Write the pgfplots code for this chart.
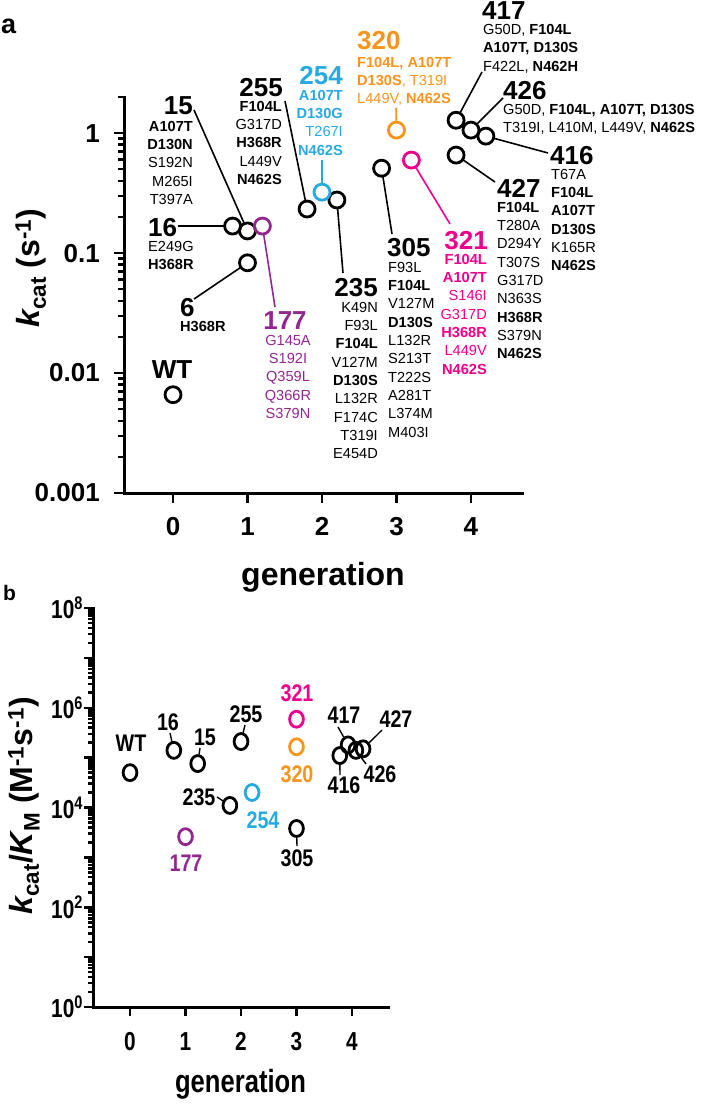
\documentclass[border=0pt]{standalone}
\usepackage{fontspec}
\setmainfont{Liberation Sans}
\usepackage{pgfplots}
\pgfplotsset{compat=1.18}
\definecolor{cpurple}{HTML}{92278F}
\definecolor{ccyan}{HTML}{27AAE1}
\definecolor{corange}{HTML}{F7941E}
\definecolor{cpink}{HTML}{EC008C}
\newcommand{\fs}[1]{\fontsize{#1}{#1}\selectfont}
\newcommand{\mutcol}[5]{\foreach \mt [count=\i from 0] in {#5} {\node[mut,text=#4,anchor=#3] at (#1,{#2+18.35*\i}) {\mt};}}
\begin{document}
\begin{tikzpicture}[
  big/.style={font=\fs{26}\bfseries, inner sep=0pt},
  mut/.style={font=\fs{14.6}, inner sep=0pt},
  bl/.style={font=\fs{24}\bfseries, inner sep=0pt, xscale=0.82},
  lead/.style={line width=1.6pt, shorten >=8.5pt},
]
\useasboundingbox (0pt,0pt) rectangle (704pt,-1106pt);

% ---------------- panel a ----------------
\begin{axis}[
  at={(124pt,-493pt)}, anchor=south west,
  scale only axis, width=398pt, height=396pt,
  xmin=-0.658, xmax=4.685,
  ymode=log, ymin=0.001, ymax=2,
  axis lines=left,
  axis line style={-, line width=3pt, line cap=rect},
  clip=false,
  xtick={0,1,2,3,4}, xticklabels={0,1,2,3,4},
  ytick={0.001,0.01,0.1,1}, yticklabels={0.001,0.01,0.1,1},
  minor ytick={0.002,0.003,0.004,0.005,0.006,0.007,0.008,0.009,0.02,0.03,0.04,0.05,0.06,0.07,0.08,0.09,0.2,0.3,0.4,0.5,0.6,0.7,0.8,0.9,2},
  tick align=outside,
  major tick length=10pt, minor tick length=6pt,
  every tick/.style={black, line width=2.5pt},
  ticklabel style={font=\fs{26}\bfseries, inner sep=0pt},
  xticklabel shift=14pt, yticklabel shift=14pt,
  xlabel={generation},
  ylabel={{\itshape k}\textsubscript{cat} (s\textsuperscript{-1})},
  label style={font=\fs{32}\bfseries},
  xlabel style={at={(axis description cs:0.5,-0.2323)}, anchor=base},
  ylabel style={at={(axis description cs:-0.2337,0.568)}, anchor=center},
]
\addplot[only marks, mark=o, black, mark size=8pt, mark options={line width=2.8pt}] coordinates {
 (0,0.0066) (0.8,0.168) (1,0.153) (1,0.083) (1.8,0.233) (2.2,0.277) (2.8,0.51)
 (3.8,1.28) (4,1.06) (4.2,0.944) (3.8,0.656)};
\addplot[only marks, mark=o, cpurple, mark size=8pt, mark options={line width=2.8pt}] coordinates {(1.2,0.168)};
\addplot[only marks, mark=o, ccyan, mark size=8pt, mark options={line width=2.8pt}] coordinates {(2,0.322)};
\addplot[only marks, mark=o, corange, mark size=8pt, mark options={line width=2.8pt}] coordinates {(3,1.06)};
\addplot[only marks, mark=o, cpink, mark size=8pt, mark options={line width=2.8pt}] coordinates {(3.2,0.596)};
\coordinate (aWT) at (axis cs:0,0.0066);
\coordinate (a16) at (axis cs:0.8,0.168);
\coordinate (a15) at (axis cs:1,0.153);
\coordinate (a6) at (axis cs:1,0.083);
\coordinate (a177) at (axis cs:1.2,0.168);
\coordinate (a255) at (axis cs:1.8,0.233);
\coordinate (a254) at (axis cs:2,0.322);
\coordinate (a235) at (axis cs:2.2,0.277);
\coordinate (a305) at (axis cs:2.8,0.51);
\coordinate (a320) at (axis cs:3,1.06);
\coordinate (a321) at (axis cs:3.2,0.596);
\coordinate (a417) at (axis cs:3.8,1.28);
\coordinate (a426) at (axis cs:4,1.06);
\coordinate (a416) at (axis cs:4.2,0.944);
\coordinate (a427) at (axis cs:3.8,0.656);
\end{axis}

% ---------------- panel b ----------------
\begin{axis}[
  at={(93pt,-1007pt)}, anchor=south west,
  scale only axis, width=295pt, height=399pt,
  xmin=-0.667, xmax=4.649,
  ymode=log, ymin=1, ymax=1e8,
  axis lines=left,
  axis line style={-, line width=3pt, line cap=rect},
  clip=false,
  xtick={0,1,2,3,4}, xticklabels={0,1,2,3,4},
  ytick={1,10,100,1000,1e4,1e5,1e6,1e7,1e8},
  yticklabels={10\textsuperscript{0},,10\textsuperscript{2},,10\textsuperscript{4},,10\textsuperscript{6},,10\textsuperscript{8}},
  minor ytick={2,3,4,5,6,7,8,9,20,30,40,50,60,70,80,90,200,300,400,500,600,700,800,900,2000,3000,4000,5000,6000,7000,8000,9000,2e4,3e4,4e4,5e4,6e4,7e4,8e4,9e4,2e5,3e5,4e5,5e5,6e5,7e5,8e5,9e5,2e6,3e6,4e6,5e6,6e6,7e6,8e6,9e6,2e7,3e7,4e7,5e7,6e7,7e7,8e7,9e7},
  tick align=outside,
  major tick length=9pt, minor tick length=5pt,
  every tick/.style={black, line width=2.5pt},
  ticklabel style={font=\fs{26}\bfseries, inner sep=0pt, xscale=0.8},
  xticklabel shift=16pt, yticklabel shift=1pt,
  xlabel={generation},
  ylabel={{\itshape k}\textsubscript{cat}/{\itshape K}\textsubscript{M} (M\textsuperscript{-1}s\textsuperscript{-1})},
  label style={font=\fs{32}\bfseries},
  xlabel style={at={(axis description cs:0.5,-0.2155)}, anchor=base, xscale=0.8},
  ylabel style={at={(axis description cs:-0.234,0.504)}, anchor=center},
]
\addplot[only marks, mark=o, black, mark size=8pt, mark options={line width=2.8pt, xscale=0.86}] coordinates {
 (0,5.0e4) (0.79,1.4e5) (1.22,7.6e4) (2,2.1e5) (1.8,1.1e4) (3,3.8e3)
 (3.78,1.1e5) (3.93,1.8e5) (4.07,1.4e5) (4.2,1.5e5)};
\addplot[only marks, mark=o, cpurple, mark size=8pt, mark options={line width=2.8pt, xscale=0.86}] coordinates {(1,2.6e3)};
\addplot[only marks, mark=o, ccyan, mark size=8pt, mark options={line width=2.8pt, xscale=0.86}] coordinates {(2.2,2.0e4)};
\addplot[only marks, mark=o, corange, mark size=8pt, mark options={line width=2.8pt, xscale=0.86}] coordinates {(3,1.65e5)};
\addplot[only marks, mark=o, cpink, mark size=8pt, mark options={line width=2.8pt, xscale=0.86}] coordinates {(3,5.9e5)};
\coordinate (b16) at (axis cs:0.79,1.4e5);
\coordinate (b15) at (axis cs:1.22,7.6e4);
\coordinate (b255) at (axis cs:2,2.1e5);
\coordinate (b235) at (axis cs:1.8,1.1e4);
\coordinate (b305) at (axis cs:3,3.8e3);
\coordinate (b416) at (axis cs:3.78,1.1e5);
\coordinate (b417) at (axis cs:3.93,1.8e5);
\coordinate (b426) at (axis cs:4.07,1.4e5);
\coordinate (b427) at (axis cs:4.2,1.5e5);
\end{axis}

\begin{scope}[x=1pt,y=-1pt]
% panel letters
\node[font=\fs{27}\bfseries, inner sep=0pt, anchor=base west] at (1,33) {a};
\node[font=\fs{21}\bfseries, inner sep=0pt, anchor=base west] at (3,600) {b};

% ---- panel a annotations ----
\node[big, anchor=base] at (172,378) {WT};

\node[big, anchor=base east] at (193,114) {15};
\mutcol{193}{131}{base east}{black}{\textbf{A107T},\textbf{D130N},S192N,M265I,T397A}
\draw[lead] (194,110) -- (a15);

\node[big, anchor=base west] at (148,236) {16};
\mutcol{148}{251.5}{base west}{black}{E249G,\textbf{H368R}}
\draw[lead] (178,226) -- (a16);

\node[big, anchor=base west] at (180,316) {6};
\node[mut, anchor=base west] at (180,331) {\textbf{H368R}};
\draw[lead] (194,299) -- (a6);

\node[big, anchor=base, text=cpurple] at (285,329) {177};
\mutcol{288}{345}{base}{cpurple}{G145A,S192I,Q359L,Q366R,S379N}
\draw[lead, cpurple] (275,307) -- (a177);

\node[big, anchor=base east] at (283,96) {255};
\mutcol{282}{111}{base east}{black}{\textbf{F104L},G317D,\textbf{H368R},L449V,\textbf{N462S}}
\draw[lead] (285,101) -- (a255);

\node[big, anchor=base east, text=ccyan] at (343,84) {254};
\mutcol{343}{100}{base east}{ccyan}{\textbf{A107T},\textbf{D130G},T267I,\textbf{N462S}}
\draw[lead, ccyan] (322,160) -- (a254);

\node[big, anchor=base east] at (378,296) {235};
\mutcol{378}{312}{base east}{black}{K49N,F93L,\textbf{F104L},V127M,\textbf{D130S},L132R,F174C,T319I,E454D}
\draw[lead] (343,273) -- (a235);

\node[big, anchor=base west] at (387,256) {305};
\mutcol{388}{272}{base west}{black}{F93L,\textbf{F104L},V127M,\textbf{D130S},L132R,S213T,T222S,A281T,L374M,M403I}
\draw[lead] (392,234) -- (a305);

\node[big, anchor=base east, text=cpink] at (488,249) {321};
\mutcol{487}{264}{base east}{cpink}{\textbf{F104L},\textbf{A107T},S146I,G317D,\textbf{H368R},L449V,\textbf{N462S}}
\draw[lead, cpink] (450,224) -- (a321);

\node[big, anchor=base west] at (497,197) {427};
\mutcol{497}{212}{base west}{black}{\textbf{F104L},T280A,D294Y,T307S,G317D,N363S,\textbf{H368R},S379N,\textbf{N462S}}
\draw[lead] (495,182) -- (a427);

\node[big, anchor=base west] at (550,164) {416};
\mutcol{551}{179}{base west}{black}{T67A,\textbf{F104L},\textbf{A107T},\textbf{D130S},K165R,\textbf{N462S}}
\draw[lead] (548,153) -- (a416);

\node[big, anchor=base west] at (503,99) {426};
\node[mut, anchor=base west] at (503,114) {G50D, \textbf{F104L, A107T, D130S}};
\node[mut, anchor=base west] at (503,132) {T319I, L410M, L449V, \textbf{N462S}};
\draw[lead] (503,98) -- (a426);

\node[big, anchor=base west] at (482,19) {417};
\node[mut, anchor=base west] at (483,34.5) {G50D, \textbf{F104L}};
\node[mut, anchor=base west] at (483,52.8) {\textbf{A107T, D130S}};
\node[mut, anchor=base west] at (483,71.1) {F422L, \textbf{N462H}};
\draw[lead] (482,72) -- (a417);

\node[big, anchor=base west, text=corange] at (357,49) {320};
\node[mut, anchor=base west, text=corange] at (357,67) {\textbf{F104L, A107T}};
\node[mut, anchor=base west, text=corange] at (357,85.3) {\textbf{D130S}, T319I};
\node[mut, anchor=base west, text=corange] at (357,103.6) {L449V, \textbf{N462S}};
\draw[lead, corange] (396,108) -- (a320);

% ---- panel b annotations ----
\node[bl] at (131,743) {WT};
\node[bl] at (168,722) {16};
\draw[lead, line width=1.4pt, shorten >=9pt] (170,733) -- (b16);
\node[bl] at (205,737) {15};
\draw[lead, line width=1.4pt, shorten >=9pt] (200,748) -- (b15);
\node[bl] at (246,714) {255};
\draw[lead, line width=1.4pt, shorten >=9pt] (245,725) -- (b255);
\node[bl] at (199,797) {235};
\draw[lead, line width=1.4pt, shorten >=7.5pt] (217,797) -- (b235);
\node[bl, text=ccyan] at (263,820) {254};
\node[bl, text=cpurple] at (186,863) {177};
\node[bl, text=cpink] at (297,693) {321};
\node[bl, text=corange] at (297,774) {320};
\node[bl] at (297,858) {305};
\draw[lead, line width=1.4pt, shorten >=9pt] (297,846) -- (b305);
\node[bl] at (344,715) {417};
\draw[lead, line width=1.4pt, shorten >=9pt] (338,727) -- (b417);
\node[bl] at (396,719) {427};
\draw[lead, line width=1.4pt, shorten >=8pt] (382,730) -- (b427);
\node[bl] at (344,785) {416};
\draw[lead, line width=1.4pt, shorten >=9pt] (340,775) -- (b416);
\node[bl] at (380,774) {426};
\draw[lead, line width=1.4pt, shorten >=8pt] (366,764) -- (b426);
\end{scope}
\end{tikzpicture}
\end{document}
